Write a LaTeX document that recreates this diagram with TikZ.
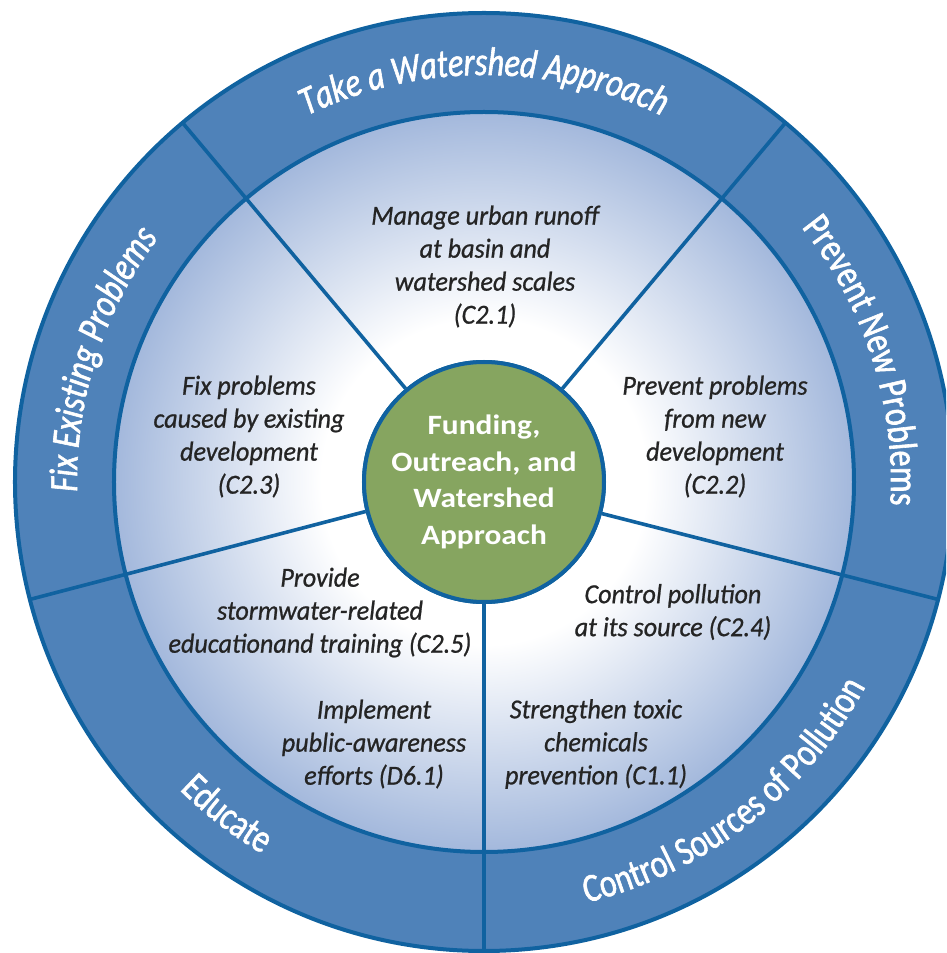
\documentclass[tikz,border=0pt]{standalone}
\usepackage{fontspec}
\usetikzlibrary{decorations.text}
\newfontfamily\bodyfont{Carlito}[FakeStretch=0.95,FakeBold=0.8]
\newfontfamily\bandfont{Carlito}[FakeStretch=0.8,FakeBold=1.5]
\newfontfamily\hubfont{Carlito}[FakeStretch=1.12]
\definecolor{bandblue}{RGB}{79,130,185}
\definecolor{lineblue}{RGB}{16,98,160}
\definecolor{hubgreen}{RGB}{134,165,96}
\definecolor{discedge}{RGB}{163,184,220}
\definecolor{textgray}{RGB}{36,36,36}
\pgfdeclareradialshading{discshade}{\pgfpoint{0bp}{0bp}}{color(0bp)=(white); color(11bp)=(white); color(25bp)=(discedge); color(50bp)=(discedge)}
\newcommand{\bandit}{\bandfont\itshape\fontsize{40}{40}\selectfont\color{white}}
\newcommand{\bandup}{\bandfont\fontsize{40}{40}\selectfont\color{white}}
\begin{document}
\begin{tikzpicture}[x=1pt,y=1pt,
  ringline/.style={draw=lineblue,line width=4pt},
  spoke/.style={draw=lineblue,line width=3.6pt},
  hub/.style={circle,fill=hubgreen,draw=lineblue,line width=4pt,minimum size=240pt,inner sep=0pt,
    align=center,text=white,font=\hubfont\bfseries\fontsize{28}{36.5}\selectfont},
  body/.style={align=center,text=textgray,inner sep=0pt,font=\bodyfont\itshape\fontsize{27.5}{33}\selectfont},
  bandtext/.style={decorate}]
\useasboundingbox (-484,-471) rectangle (462,482);
\clip (-484,-471) rectangle (462,482);
% outer band
\path[ringline,fill=bandblue] (0,0) circle[radius=469];
% inner disc
\path[shading=discshade] (0,0) circle[radius=370];
\path[ringline] (0,0) circle[radius=370];
% hub (placed first so the spokes can start at its border)
\node[hub] (hub) at (0,0) {Funding,\\Outreach, and\\Watershed\\Approach};
% spokes
\coordinate (o50) at (50:469);
\coordinate (o130) at (130:469);
\coordinate (o194) at (194.5:469);
\coordinate (o270) at (270:469);
\coordinate (o345) at (345.5:469);
\draw[spoke] (hub.50) -- (o50);
\draw[spoke] (hub.130) -- (o130);
\draw[spoke] (hub.194.5) -- (o194);
\draw[spoke] (hub.270) -- (o270);
\draw[spoke] (hub.345.5) -- (o345);
\node[hub] (hubtop) at (hub.center) {Funding,\\Outreach, and\\Watershed\\Approach};
% band labels
\path[bandtext,decoration={text along path,text align=center,
  text={|\bandit|Take a Watershed Approach}}]
  (128:407) arc[start angle=128,end angle=52,radius=407];
\path[bandtext,decoration={text along path,text align=center,
  text={|\bandit|Fix Existing Problems}}]
  (192.25:407) arc[start angle=192.25,end angle=132.25,radius=407];
\path[bandtext,decoration={text along path,text align=center,
  text={|\bandup|Prevent New Problems}}]
  (47.75:407) arc[start angle=47.75,end angle=-12.25,radius=407];
\path[bandtext,decoration={text along path,text align=center,
  text={|\bandup|Educate}}]
  (202.25:433) arc[start angle=202.25,end angle=262.25,radius=433];
\path[bandtext,decoration={text along path,text align=center,
  text={|\bandup|Control Sources of Pollution}}]
  (272.75:433) arc[start angle=272.75,end angle=342.75,radius=433];
% sector texts
\node[body] (c21) at (1,215.5) {Manage urban runoff\\at basin and\\watershed scales\\(C2.1)};
\node[body] (c23) at (-235,45.5) {Fix problems\\caused by existing\\development\\(C2.3)};
\node[body] (c22) at (231,45.5) {Prevent problems\\from new\\development\\(C2.2)};
\node[body] (c25) at (-164,-130.5) {Provide\\stormwater-related\\educationand training (C2.5)};
\node[body] (c24) at (189,-130) {Control pollution\\at its source (C2.4)};
\node[body] (d61) at (-110,-262) {Implement\\public-awareness\\efforts (D6.1)};
\node[body] (c11) at (112,-262) {Strengthen toxic\\chemicals\\prevention (C1.1)};
\end{tikzpicture}
\end{document}
